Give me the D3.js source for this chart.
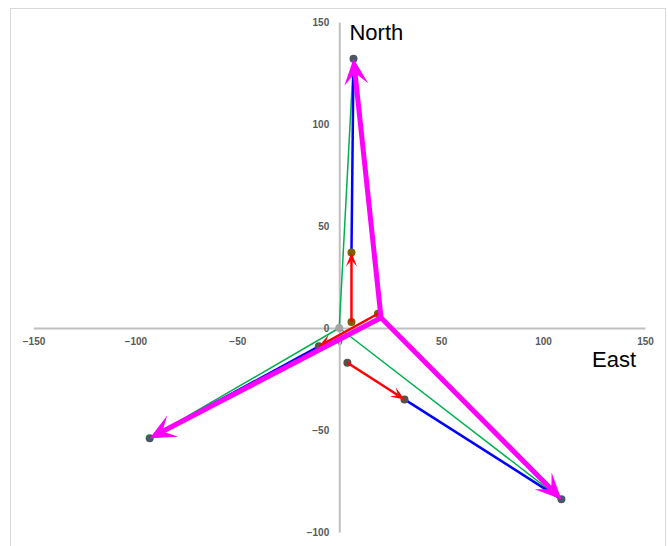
<!DOCTYPE html>
<html><head><meta charset="utf-8">
<script src="https://cdn.jsdelivr.net/npm/d3@7"></script>
<style>body{margin:0;background:#fff}svg{display:block}</style>
</head><body>
<script>
// ---- data ----
const xTicks = [-150, -100, -50, 0, 50, 100, 150];
const yTicks = [-100, -50, 0, 50, 100, 150];
const origin = [0, 0];
const tips = [[7, 132], [-93, -54], [109, -84]];          // resultant tips
const centre = [20.5, 5];                                   // magenta vertex
const redStarts = [[6, 3], [19, 7], [4, -17]];
const redEnds = [[6, 37], [-10, -9], [32, -35]];
const dotsBrown = [[6, 3], [6, 37], [19, 7]];
const dotsDark = [[-10, -9], [4, -17], [32, -35]];
const axisLabels = [{text: "North", x: 5, y: 141}, {text: "East", x: 124, y: -19}];

const W = 668, H = 546;
const svg = d3.select("body").append("svg").attr("width", W).attr("height", H);
const x = d3.scaleLinear().domain([-150, 150]).range([33.5, 645]);
const y = d3.scaleLinear().domain([-100, 150]).range([532, 22]);

svg.append("rect").attr("x", 10.5).attr("y", 8.5).attr("width", 655).attr("height", 560)
  .attr("fill", "#fff").attr("stroke", "#d9d9d9");

// axes
const xa = svg.append("g").attr("transform", `translate(0,${y(0)})`)
  .call(d3.axisBottom(x).tickValues(xTicks).tickSize(0).tickPadding(10).tickFormat(d3.format("d")));
const ya = svg.append("g").attr("transform", `translate(${x(0)},0)`)
  .call(d3.axisLeft(y).tickValues(yTicks).tickSize(0).tickPadding(10).tickFormat(d3.format("d")));
[xa, ya].forEach(g => {
  g.select(".domain").attr("stroke", "#bfbfbf").attr("stroke-width", 2);
  g.selectAll("text").attr("fill", "#595959").style("font-family", "Liberation Sans, Arial, sans-serif")
    .style("font-size", "10px").style("font-weight", "bold");
});

function P(d) { return [x(d[0]), y(d[1])]; }
function line(a, b, color, w) {
  const p = P(a), q = P(b);
  svg.append("line").attr("x1", p[0]).attr("y1", p[1]).attr("x2", q[0]).attr("y2", q[1])
    .attr("stroke", color).attr("stroke-width", w);
}
function arrow(a, b, color, w, L, Wd) {
  const p = P(a), q = P(b);
  const dx = q[0] - p[0], dy = q[1] - p[1], len = Math.hypot(dx, dy);
  const ux = dx / len, uy = dy / len, nx = -uy, ny = ux;
  const notch = L * 0.55;
  svg.append("line").attr("x1", p[0]).attr("y1", p[1])
    .attr("x2", q[0] - ux * notch).attr("y2", q[1] - uy * notch)
    .attr("stroke", color).attr("stroke-width", w);
  const pts = [
    [q[0], q[1]],
    [q[0] - ux * L + nx * Wd / 2, q[1] - uy * L + ny * Wd / 2],
    [q[0] - ux * notch, q[1] - uy * notch],
    [q[0] - ux * L - nx * Wd / 2, q[1] - uy * L - ny * Wd / 2]
  ];
  svg.append("path").attr("d", "M" + pts.map(d => d.join(",")).join("L") + "Z").attr("fill", color);
}
function dot(d, fill, r) {
  const p = P(d);
  svg.append("circle").attr("cx", p[0]).attr("cy", p[1]).attr("r", r || 4).attr("fill", fill);
}

// green: origin to tips
tips.forEach(t => line(origin, t, "#00B050", 1.5));
// blue: red ends to tips
redEnds.forEach((e, i) => line(e, tips[i], "#0000FF", 2.5));
// dots
dot(origin, "#a5a5a5");
tips.forEach(t => dot(t, "#4a5866"));
dotsBrown.forEach(d => dot(d, "#7f6000"));
dotsDark.forEach(d => dot(d, "#5a5048"));
// red arrows
redStarts.forEach((s, i) => arrow(s, redEnds[i], "#FF0000", 2.5, 14, 11));
// magenta arrows
tips.forEach(t => arrow(centre, t, "#FF00FF", 5, 26, 24));

// labels
svg.selectAll("text.lab").data(axisLabels).enter().append("text").attr("class", "lab")
  .attr("x", d => x(d.x)).attr("y", d => y(d.y))
  .style("font-family", "Liberation Sans, Arial, sans-serif").style("font-size", "22px")
  .attr("fill", "#000").text(d => d.text);
</script>
</body></html>
